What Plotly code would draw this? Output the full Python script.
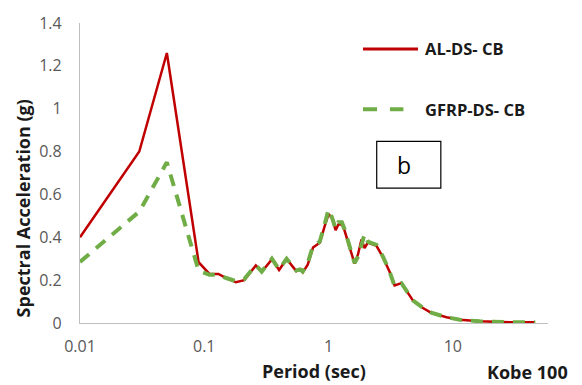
import plotly.graph_objects as go

# Response spectra (Kobe, 100% scaling) for the two cladding systems
period = [0.01, 0.03, 0.05, 0.09, 0.11, 0.13, 0.15, 0.18, 0.21, 0.26, 0.29, 0.35,
          0.40, 0.46, 0.55, 0.59, 0.62, 0.68, 0.75, 0.85, 0.93, 1.0, 1.07, 1.14,
          1.2, 1.28, 1.34, 1.48, 1.62, 1.73, 1.84, 1.95, 2.07, 2.43, 2.74, 3.1,
          3.4, 3.86, 4.5, 4.8, 5.75, 6.7, 8.9, 11.4, 16.5, 22.4, 30.5, 46.0]

al_ds_cb = [0.40, 0.80, 1.26, 0.284, 0.229, 0.229, 0.21, 0.19, 0.20, 0.269, 0.239, 0.297,
            0.247, 0.299, 0.242, 0.251, 0.236, 0.272, 0.352, 0.375, 0.451, 0.508, 0.488, 0.433,
            0.46, 0.46, 0.435, 0.352, 0.277, 0.322, 0.39, 0.35, 0.375, 0.36, 0.307, 0.239,
            0.175, 0.186, 0.126, 0.103, 0.07, 0.047, 0.027, 0.015, 0.008, 0.005, 0.003, 0.003]

gfrp_ds_cb = [0.285, 0.52, 0.75, 0.245, 0.225, 0.225, 0.21, 0.195, 0.205, 0.27, 0.24, 0.30,
              0.25, 0.30, 0.245, 0.25, 0.24, 0.28, 0.36, 0.38, 0.46, 0.53, 0.49, 0.44,
              0.47, 0.47, 0.44, 0.36, 0.28, 0.31, 0.37, 0.415, 0.38, 0.365, 0.31, 0.24,
              0.172, 0.186, 0.128, 0.104, 0.071, 0.048, 0.027, 0.015, 0.008, 0.005, 0.003, 0.003]

y_ticks = [0, 0.2, 0.4, 0.6, 0.8, 1, 1.2, 1.4]
y_tick_text = ["0", "0.2", "0.4", "0.6", "0.8", "1", "1.2", "1.4"]
x_ticks = [0.01, 0.1, 1, 10]
x_tick_text = ["0.01", "0.1", "1", "10"]

RED = "#C00000"
GREEN = "#70AD47"
FONT = "Open Sans"
DARK = "#1a1a1a"

fig = go.Figure()
fig.add_trace(go.Scatter(x=period, y=al_ds_cb, mode="lines", name="AL-DS- CB",
                         line=dict(color=RED, width=2.5)))
fig.add_trace(go.Scatter(x=period, y=gfrp_ds_cb, mode="lines", name="GFRP-DS- CB",
                         line=dict(color=GREEN, width=4, dash="12px,9px")))

fig.update_layout(
    width=582, height=385,
    margin=dict(l=80, r=34, t=14, b=62),
    paper_bgcolor="white", plot_bgcolor="white",
    showlegend=False,
    font=dict(family=FONT, size=16, color="#595959"),
)
fig.update_xaxes(type="log", range=[-2, 1.766], tickvals=x_ticks, ticktext=x_tick_text,
                 showgrid=False, zeroline=False, showline=True, linecolor="#BFBFBF",
                 linewidth=1.3, ticks="", ticklabelstandoff=9)
fig.update_yaxes(range=[0, 1.4], tickvals=y_ticks, ticktext=y_tick_text,
                 showgrid=False, zeroline=False, showline=True, linecolor="#BFBFBF",
                 linewidth=1.3, ticks="", ticklabelstandoff=14)

# Hand-drawn legend keys
fig.add_shape(type="line", xref="paper", yref="paper", x0=0.6047, x1=0.7222, y0=0.9136, y1=0.9136,
              line=dict(color=RED, width=3))
fig.add_shape(type="line", xref="paper", yref="paper", x0=0.6047, x1=0.6910, y0=0.7129, y1=0.7129,
              line=dict(color=GREEN, width=4, dash="14px,13px"))
fig.add_annotation(text="<b>AL-DS- CB</b>", xref="paper", yref="paper", x=0.7329, y=0.9136,
                   xanchor="left", yanchor="middle", showarrow=False,
                   font=dict(family=FONT, size=16.5, color=DARK))
fig.add_annotation(text="<b>GFRP-DS- CB</b>", xref="paper", yref="paper", x=0.7329, y=0.7129,
                   xanchor="left", yanchor="middle", showarrow=False,
                   font=dict(family=FONT, size=16.5, color=DARK))

# Panel label box
fig.add_shape(type="rect", xref="paper", yref="paper", x0=0.634, x1=0.771, y0=0.4498, y1=0.6052,
              line=dict(color="black", width=1.2), fillcolor="white")
fig.add_annotation(text="b", xref="paper", yref="paper", x=(404 - 80) / 468, y=0.527,
                   xanchor="center", yanchor="middle", showarrow=False,
                   font=dict(family=FONT, size=23, color="black"))

# Axis titles and record name
fig.add_annotation(text="<b>Period (sec)</b>", xref="paper", yref="paper", x=0.5, y=-0.159,
                   xanchor="center", yanchor="middle", showarrow=False,
                   font=dict(family=FONT, size=18, color=DARK))
fig.add_annotation(text="<b>Spectral Acceleration (g)</b>", xref="paper", yref="paper",
                   x=-0.1218, y=0.382, xanchor="center", yanchor="middle", showarrow=False,
                   textangle=-90, font=dict(family=FONT, size=18, color=DARK))
fig.add_annotation(text="<b>Kobe 100</b>", xref="paper", yref="paper", x=0.956, y=-0.162,
                   xanchor="center", yanchor="middle", showarrow=False,
                   font=dict(family=FONT, size=18, color=DARK))

fig.write_html("out.html")
